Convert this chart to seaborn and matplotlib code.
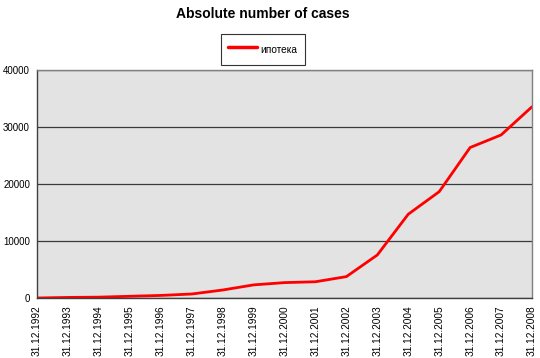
import matplotlib
matplotlib.use("Agg")
import matplotlib.pyplot as plt
import seaborn as sns
import pandas as pd

dates = ["31.12.1992", "31.12.1993", "31.12.1994", "31.12.1995", "31.12.1996",
         "31.12.1997", "31.12.1998", "31.12.1999", "31.12.2000", "31.12.2001",
         "31.12.2002", "31.12.2003", "31.12.2004", "31.12.2005", "31.12.2006",
         "31.12.2007", "31.12.2008"]
values = [0, 100, 150, 300, 450, 700, 1400, 2300, 2700, 2850, 3750, 7550,
          14700, 18650, 26400, 28600, 33550]
series_name = "ипотека"
yticks = [0, 10000, 20000, 30000, 40000]

sns.set_style("white")
plt.rcParams['font.family'] = ['Liberation Sans', 'DejaVu Sans']
plt.rcParams['text.color'] = 'black'
plt.rcParams['xtick.color'] = 'black'
plt.rcParams['ytick.color'] = 'black'

df = pd.DataFrame({"pos": range(len(dates)), "value": values, "series": series_name})

fig = plt.figure(figsize=(5.4, 3.58), dpi=100)
ax = fig.add_axes([37/540, 1-298/358, (532-37)/540, (298-70)/358])
ax.set_facecolor("#e3e3e3")

sns.lineplot(data=df, x="pos", y="value", hue="series", palette=["#ff0000"],
             linewidth=2.0, ax=ax, legend=True)

ax.set_xlim(0, len(dates)-1)
ax.set_ylim(0, 40000)
ax.set_yticks(yticks)
ax.set_yticklabels([str(v) for v in yticks], fontsize=7)
ax.set_xticks(range(len(dates)))
ax.set_xticklabels(dates, rotation=90, fontsize=7.3)
ax.tick_params(axis='both', length=3, width=0.8, color="black", pad=2)
ax.set_xlabel("")
ax.set_ylabel("")
ax.yaxis.grid(True, color="#3a3a3a", linewidth=0.9)
ax.set_axisbelow(True)
for s in ["top", "right"]:
    ax.spines[s].set_color("#808080")
    ax.spines[s].set_linewidth(1.0)
for s in ["left", "bottom"]:
    ax.spines[s].set_color("#404040")
    ax.spines[s].set_linewidth(1.0)

ax.get_legend().remove()
handles, labels = ax.get_legend_handles_labels()
leg = fig.legend(handles, labels, loc="center", bbox_to_anchor=(263/540, 1-49.5/358),
                 frameon=True, fancybox=False, edgecolor="black", fontsize=7.3,
                 handlelength=2.8, handleheight=2.0, borderpad=0.75,
                 handletextpad=0.4, borderaxespad=0)
leg.get_frame().set_linewidth(0.8)
for line in leg.get_lines():
    line.set_linewidth(2.5)

fig.suptitle("Absolute number of cases", x=263/540, y=1-14/358, fontsize=10,
             fontweight="bold", va="center", color="black")

fig.savefig("out.png", dpi=100)
